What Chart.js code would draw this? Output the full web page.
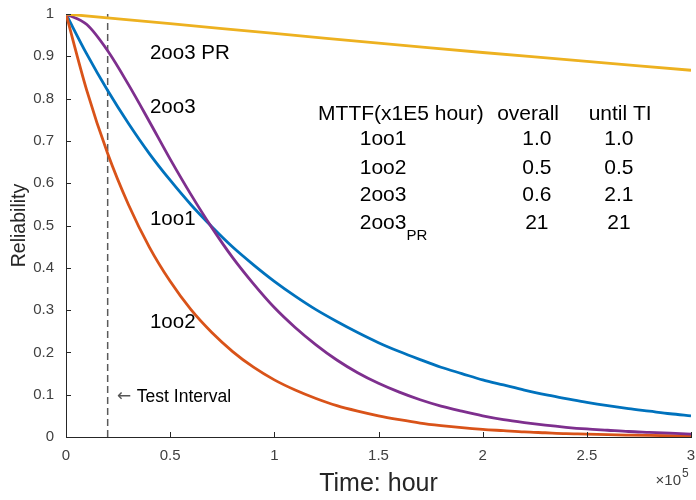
<!DOCTYPE html>
<html>
<head>
<meta charset="utf-8">
<script src="https://cdn.jsdelivr.net/npm/chart.js@4/dist/chart.umd.min.js"></script>
<style>
  html, body { margin: 0; padding: 0; background: #fff; }
</style>
</head>
<body>
<canvas id="chart" width="696" height="500"></canvas>
<script>
// Time axis (x1E5 hour)
const timeValues = [0, 0.1, 0.2, 0.3, 0.4, 0.5, 0.6, 0.7, 0.8, 0.9, 1.0,
  1.1, 1.2, 1.3, 1.4, 1.5, 1.6, 1.7, 1.8, 1.9, 2.0,
  2.1, 2.2, 2.3, 2.4, 2.5, 2.6, 2.7, 2.8, 2.9, 3.0];

// Reliability curves
const rel1oo1 = [1, 0.905, 0.819, 0.741, 0.670, 0.607, 0.549, 0.497, 0.449, 0.407, 0.368,
  0.333, 0.301, 0.273, 0.247, 0.223, 0.202, 0.183, 0.165, 0.150, 0.135,
  0.123, 0.111, 0.100, 0.091, 0.082, 0.074, 0.067, 0.061, 0.055, 0.050];
const rel1oo2 = [1, 0.819, 0.670, 0.549, 0.449, 0.368, 0.301, 0.247, 0.202, 0.165, 0.135,
  0.111, 0.091, 0.074, 0.061, 0.050, 0.041, 0.033, 0.027, 0.022, 0.018,
  0.015, 0.012, 0.010, 0.008, 0.007, 0.0055, 0.0045, 0.0037, 0.0030, 0.0025];
const rel2oo3 = [1, 0.975, 0.913, 0.833, 0.746, 0.657, 0.573, 0.495, 0.424, 0.362, 0.306,
  0.259, 0.218, 0.182, 0.152, 0.127, 0.106, 0.088, 0.073, 0.061, 0.050,
  0.041, 0.034, 0.028, 0.023, 0.019, 0.016, 0.013, 0.011, 0.009, 0.007];
const prTime = [0, 0.5, 1.0, 1.5, 2.0, 2.5, 3.0];
const rel2oo3PR = [1, 0.977, 0.954, 0.931, 0.909, 0.888, 0.867];

// Test interval marker
const testInterval = 0.2;

// Table text
const tableHeader = ['MTTF(x1E5 hour)', 'overall', 'until TI'];
const tableRows = ['1oo1', '1oo2', '2oo3', '2oo3'];
const mttfOverall = ['1.0', '0.5', '0.6', '21'];
const mttfUntilTI = ['1.0', '0.5', '2.1', '21'];

const xTicks = [0, 0.5, 1, 1.5, 2, 2.5, 3];

const FONT = "'Liberation Sans', Arial, sans-serif";
Chart.defaults.font.family = FONT;

function pts(xs, ys) {
  return xs.map((x, i) => ({ x: x, y: ys[i] }));
}

// Inward tick marks, labels and titles
const decorations = {
  id: 'decorations',
  afterDraw(chart) {
    const ctx = chart.ctx;
    const x = chart.scales.x;
    const y = chart.scales.y;
    const area = chart.chartArea;

    ctx.save();
    ctx.strokeStyle = '#262626';
    ctx.lineWidth = 1;
    ctx.beginPath();
    y.ticks.forEach((t) => {
      const py = Math.round(y.getPixelForValue(t.value)) + 0.5;
      ctx.moveTo(area.left, py);
      ctx.lineTo(area.left + 5, py);
    });
    x.ticks.forEach((t) => {
      const px = Math.round(x.getPixelForValue(t.value)) + 0.5;
      ctx.moveTo(px, area.bottom);
      ctx.lineTo(px, area.bottom - 5);
    });
    ctx.stroke();

    ctx.fillStyle = '#000';
    ctx.textBaseline = 'middle';
    ctx.font = '20.5px ' + FONT;

    // curve labels
    ctx.textAlign = 'left';
    ctx.fillText('2oo3 PR', x.getPixelForValue(0.403), y.getPixelForValue(0.908));
    ctx.fillText('2oo3', x.getPixelForValue(0.403), y.getPixelForValue(0.78));
    ctx.fillText('1oo1', x.getPixelForValue(0.403), y.getPixelForValue(0.515));
    ctx.fillText('1oo2', x.getPixelForValue(0.403), y.getPixelForValue(0.272));

    // MTTF table
    ctx.font = '21px ' + FONT;
    const rowY = [0.705, 0.636, 0.572, 0.506];
    ctx.fillText(tableHeader[0], x.getPixelForValue(1.21), y.getPixelForValue(0.764));
    ctx.textAlign = 'center';
    ctx.fillText(tableHeader[1], x.getPixelForValue(2.218), y.getPixelForValue(0.764));
    ctx.fillText(tableHeader[2], x.getPixelForValue(2.66), y.getPixelForValue(0.764));
    tableRows.forEach((name, i) => {
      const py = y.getPixelForValue(rowY[i]);
      ctx.textAlign = 'left';
      const lx = x.getPixelForValue(1.41);
      ctx.fillText(name, lx, py);
      if (i === 3) {
        const w = ctx.measureText(name).width;
        ctx.font = '15px ' + FONT;
        ctx.fillText('PR', lx + w, py + 13);
        ctx.font = '21px ' + FONT;
      }
      ctx.textAlign = 'center';
      ctx.fillText(mttfOverall[i], x.getPixelForValue(2.26), py);
      ctx.fillText(mttfUntilTI[i], x.getPixelForValue(2.654), py);
    });

    // test interval note
    const ty = y.getPixelForValue(0.095);
    ctx.textAlign = 'left';
    ctx.fillStyle = '#555';
    ctx.font = "17px 'DejaVu Sans', sans-serif";
    ctx.fillText('\u2190', x.getPixelForValue(0.245), ty);
    ctx.fillStyle = '#000';
    ctx.font = '17.5px ' + FONT;
    ctx.fillText('Test Interval', x.getPixelForValue(0.34), ty);

    // axis titles
    ctx.fillStyle = '#262626';
    ctx.font = '25px ' + FONT;
    ctx.textAlign = 'center';
    ctx.fillText('Time: hour', (area.left + area.right) / 2, 484);

    ctx.save();
    ctx.translate(20, (area.top + area.bottom) / 2);
    ctx.rotate(-Math.PI / 2);
    ctx.font = '19.5px ' + FONT;
    ctx.fillText('Reliability', 0, 0);
    ctx.restore();

    // exponent
    ctx.fillStyle = '#404040';
    ctx.font = '15px ' + FONT;
    ctx.textAlign = 'right';
    ctx.fillText('\u00d710', area.right - 10, 481);
    ctx.font = '12px ' + FONT;
    ctx.textAlign = 'left';
    ctx.fillText('5', area.right - 9, 474);

    ctx.restore();
  }
};

new Chart(document.getElementById('chart'), {
  type: 'line',
  data: {
    datasets: [
      {
        label: '2oo3 PR',
        data: pts(prTime, rel2oo3PR),
        borderColor: '#EDB120',
        borderWidth: 2.8,
        pointRadius: 0,
        tension: 0.4
      },
      {
        label: '2oo3',
        data: pts(timeValues, rel2oo3),
        borderColor: '#7E2F8E',
        borderWidth: 2.8,
        pointRadius: 0,
        cubicInterpolationMode: 'monotone'
      },
      {
        label: '1oo2',
        data: pts(timeValues, rel1oo2),
        borderColor: '#D95319',
        borderWidth: 2.8,
        pointRadius: 0,
        cubicInterpolationMode: 'monotone'
      },
      {
        label: '1oo1',
        data: pts(timeValues, rel1oo1),
        borderColor: '#0072BD',
        borderWidth: 2.8,
        pointRadius: 0,
        cubicInterpolationMode: 'monotone'
      },
      {
        label: 'Test Interval',
        data: [{ x: testInterval, y: 0 }, { x: testInterval, y: 1 }],
        borderColor: '#5a5a5a',
        borderWidth: 1.5,
        borderDash: [7, 4],
        pointRadius: 0
      }
    ]
  },
  options: {
    responsive: false,
    animation: false,
    layout: { padding: { top: 14, right: 5, left: 0, bottom: 0 } },
    plugins: {
      legend: { display: false },
      tooltip: { enabled: false }
    },
    scales: {
      x: {
        type: 'linear',
        min: 0,
        max: 3,
        afterFit: (scale) => {
          scale.height = 63;
          scale.paddingLeft = 0;
          scale.paddingRight = 0;
        },
        afterBuildTicks: (scale) => { scale.ticks = xTicks.map((v) => ({ value: v })); },
        grid: { display: false, drawTicks: false },
        border: { display: true, color: '#262626', width: 1 },
        ticks: {
          padding: 10,
          color: '#404040',
          font: { size: 15 },
          maxRotation: 0,
          callback: (v) => String(v)
        }
      },
      y: {
        min: 0,
        max: 1,
        afterFit: (scale) => {
          scale.width = 66;
          scale.paddingTop = 0;
          scale.paddingBottom = 0;
        },
        grid: { display: false, drawTicks: false },
        border: { display: true, color: '#262626', width: 1 },
        ticks: {
          stepSize: 0.1,
          padding: 12,
          color: '#404040',
          font: { size: 15 },
          callback: (v) => String(Math.round(v * 10) / 10)
        }
      }
    }
  },
  plugins: [decorations]
});
</script>
</body>
</html>
